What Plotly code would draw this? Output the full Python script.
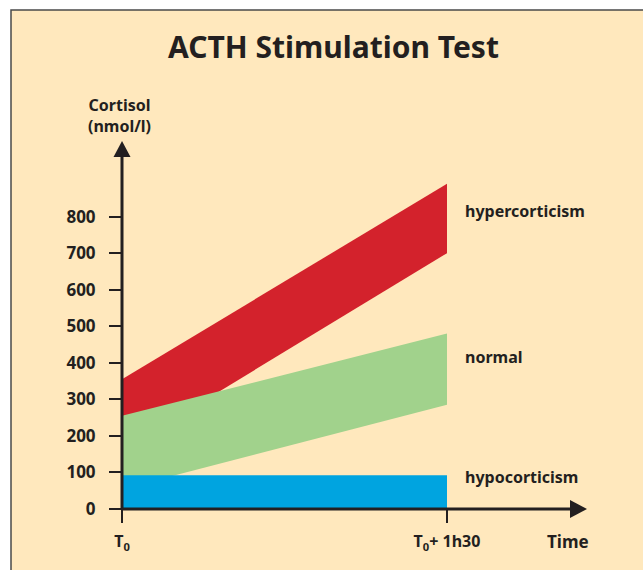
import plotly.graph_objects as go

# Time points (minutes after T0) and cortisol bands (nmol/l)
times = [0, 90]
hyper_upper = [355, 890]
hyper_lower = [160, 700]
normal_upper = [255, 480]
normal_lower = [55, 285]
hypo_upper = [92, 92]
hypo_lower = [0, 0]

y_ticks = [0, 100, 200, 300, 400, 500, 600, 700, 800]
x_tick_vals = [0, 90]
x_tick_text = ["T<sub>0</sub>", "T<sub>0</sub>+ 1h30"]

band_names = ["hypercorticism", "normal", "hypocorticism"]
band_colors = ["#D3222C", "#A1D28C", "#00A4E0"]
band_label_y = [816, 417, 88]

W, H = 643, 570
BG = "#FFE8BD"
INK = "#231F20"
FONT = "Noto Sans"

# axis ranges chosen so that T0 sits at x=122px and 0 nmol/l at y=509px
px_per_min = 325 / 90
px_per_unit = 0.3655
x_range = [-122 / px_per_min, (W - 122) / px_per_min]
y_range = [-(H - 509) / px_per_unit, 509 / px_per_unit]

fig = go.Figure()

bands = [
    (hyper_upper, hyper_lower),
    (normal_upper, normal_lower),
    (hypo_upper, hypo_lower),
]
for (upper, lower), name, color in zip(bands, band_names, band_colors):
    fig.add_trace(go.Scatter(
        x=times + times[::-1],
        y=upper + lower[::-1],
        fill="toself",
        fillcolor=color,
        mode="lines",
        line=dict(width=0, color=color),
        name=name,
        hoverinfo="name",
        showlegend=False,
    ))

# band labels to the right of the bands
for name, yv in zip(band_names, band_label_y):
    fig.add_annotation(
        x=94.5, y=yv, xref="x", yref="y", text=name, showarrow=False,
        xanchor="left", yanchor="middle",
        font=dict(family=FONT, size=16, color=INK, weight="bold"),
    )

# framed background panel (left and top edges visible)
fig.add_shape(
    type="rect", xref="paper", yref="paper",
    x0=11 / W, x1=1.05, y0=-0.05, y1=1 - 10 / H,
    fillcolor=BG, line=dict(color="#4A4A4A", width=1.5), layer="below",
)

y_top = (509 - 157) / px_per_unit
y_tip = (509 - 141) / px_per_unit
x_end = (570 - 122) / px_per_min
x_tip = (587 - 122) / px_per_min
half_w = 8.5 / px_per_min
half_h = 9 / px_per_unit

# axis lines
fig.add_shape(type="line", x0=0, x1=0, y0=0, y1=y_top, xref="x", yref="y",
              line=dict(color=INK, width=3))
fig.add_shape(type="line", x0=0, x1=x_end, y0=0, y1=0, xref="x", yref="y",
              line=dict(color=INK, width=3))
# arrow heads
fig.add_shape(type="path", xref="x", yref="y", fillcolor=INK, line=dict(width=0),
              path=f"M {-half_w} {y_top} L {half_w} {y_top} L 0 {y_tip} Z")
fig.add_shape(type="path", xref="x", yref="y", fillcolor=INK, line=dict(width=0),
              path=f"M {x_end} {-half_h} L {x_end} {half_h} L {x_tip} 0 Z")

# title and axis captions
fig.add_annotation(
    x=333 / W, y=1 - 46 / H, xref="paper", yref="paper",
    text="ACTH Stimulation Test", showarrow=False,
    xanchor="center", yanchor="middle",
    font=dict(family=FONT, size=30, color=INK, weight="bold"),
)
fig.add_annotation(
    x=-0.6, y=(509 - 115) / px_per_unit, xref="x", yref="y",
    text="Cortisol<br>(nmol/l)", showarrow=False, align="center",
    xanchor="center", yanchor="middle",
    font=dict(family=FONT, size=16, color=INK, weight="bold"),
)
fig.add_annotation(
    x=(568 - 122) / px_per_min, y=-(541 - 509) / px_per_unit, xref="x", yref="y",
    text="Time", showarrow=False, xanchor="center", yanchor="middle",
    font=dict(family=FONT, size=17, color=INK, weight="bold"),
)

fig.update_layout(
    width=W, height=H,
    margin=dict(l=0, r=0, t=0, b=0),
    paper_bgcolor="white",
    plot_bgcolor="rgba(0,0,0,0)",
    showlegend=False,
    xaxis=dict(
        range=x_range, showgrid=False, zeroline=False, showline=False,
        anchor="free", position=(H - 509) / H,
        tickmode="array", tickvals=x_tick_vals, ticktext=x_tick_text,
        ticks="outside", ticklen=13, tickwidth=1.5, tickcolor=INK,
        ticklabelstandoff=5,
        tickfont=dict(family=FONT, size=16, color=INK, weight="bold"),
        fixedrange=True,
    ),
    yaxis=dict(
        range=y_range, showgrid=False, zeroline=False, showline=False,
        anchor="free", position=122 / W,
        tickmode="array", tickvals=y_ticks,
        ticks="outside", ticklen=13, tickwidth=1.5, tickcolor=INK,
        ticklabelstandoff=10,
        tickfont=dict(family=FONT, size=17, color=INK, weight="bold"),
        fixedrange=True,
    ),
)

fig.write_html("out.html")
